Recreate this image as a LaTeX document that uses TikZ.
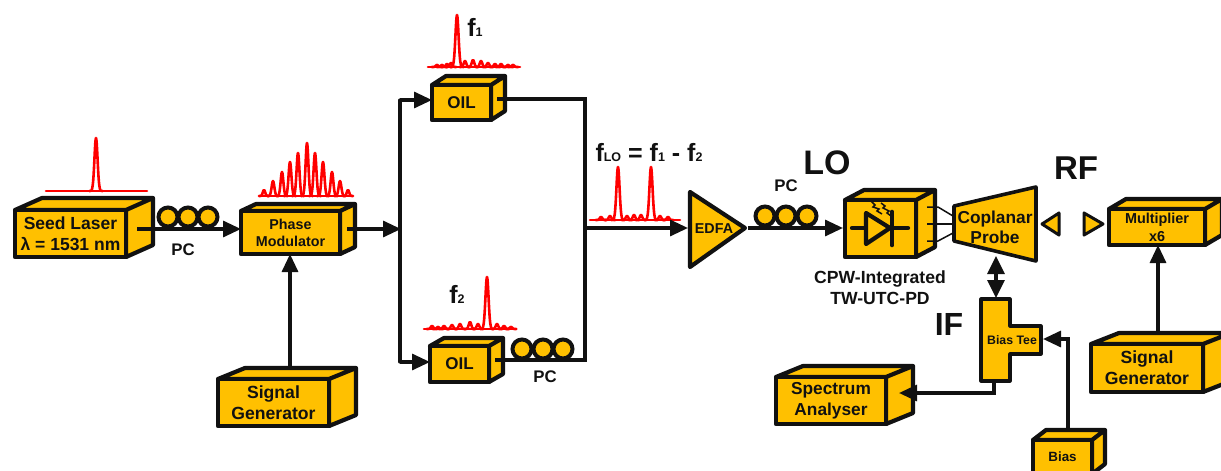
\documentclass[tikz,border=0pt]{standalone}
\usepackage{fontspec}
\setmainfont{Liberation Sans}[BoldFont={Liberation Sans Bold}]
\usetikzlibrary{arrows.meta,calc}
\definecolor{gold}{HTML}{FFC000}
\definecolor{ink}{HTML}{111111}
\newcommand{\fs}[2]{\fontsize{#1}{#2}\selectfont\bfseries}
\newcommand{\fsub}[1]{{\fontsize{25}{25}\selectfont f}{\fontsize{12.5}{12.5}\selectfont #1}}
\newcommand{\devbox}[9]{%
  \draw[dev] (#2,#3) -- ({#2+#6},{#3-#7}) -- ({#4+#6},{#3-#7}) -- ({#4+#6},{#5-#7}) -- (#4,#5) -- (#4,#3) -- cycle
     (#4,#3) -- ({#4+#6},{#3-#7});
  \node[devnode,font=#8,minimum width={(#4-#2)*1pt},minimum height={(#5-#3)*1pt}] (#1) at ({(#2+#4)/2},{(#3+#5)/2}) {#9};
}
\newcommand{\pk}[4]{% x0, height, base, width
  \draw[spec] plot[domain={#1-3*#4}:{#1+3*#4},samples=25,smooth] (\x,{#3-#2*exp(-((\x-#1)/#4)^2)});
}
\newcommand{\bumps}[2]{% base, list x/h
  \foreach \bx/\bh in {#2} {\pk{\bx}{\bh}{#1}{1.8}}
}
\begin{document}
\begin{tikzpicture}[x=1pt,y=-1pt,
  dev/.style={draw=ink,fill=gold,line width=4.2pt,line join=round},
  devnode/.style={dev,inner sep=0pt,outer sep=0pt,align=center,text=ink},
  conn/.style={draw=ink,line width=3.2pt},
  arr/.style={conn,-{Triangle[length=18pt,width=16pt]}},
  darr/.style={conn,{Triangle[length=18pt,width=17pt]}-{Triangle[length=18pt,width=17pt]}},
  coil/.style={circle,draw=ink,fill=gold,line width=4pt,minimum size=19pt,inner sep=0pt,outer sep=0pt},
  spec/.style={draw=red,line width=2.6pt,line cap=round,line join=round},
  lab/.style={inner sep=0pt,text=ink,align=center},
  thin wire/.style={draw=ink,line width=1.5pt}]
\clip (0,0) rectangle (1221,471);
\fill[white] (0,0) rectangle (1221,471);

% spectra
\draw[spec] (46,191) -- (147,191); \pk{96}{53}{191}{2.2}
\draw[spec] (261,196) -- (352,196);
\pk{264}{6}{196}{1.7}\pk{273}{15}{196}{1.9}\pk{282}{24}{196}{1.9}\pk{290}{34}{196}{2}\pk{298}{43}{196}{2}\pk{307}{53}{196}{2}\pk{315}{43}{196}{2}\pk{323}{34}{196}{2}\pk{332}{24}{196}{1.9}\pk{340}{15}{196}{1.9}\pk{348}{6}{196}{1.7}
\draw[spec] (428,67) -- (520,67); \pk{457}{52}{67}{2.2}
\bumps{67}{437/2,442/2,447/3,451/4,465/6,473/7,481/6,488/4,495/3,501/3,508/2,513/2}
\draw[spec] (424,329) -- (516,329); \pk{487}{52}{329}{2.2}
\bumps{329}{432/3,438/2,444/3,452/4,460/5,470/7,478/5,497/5,504/3,511/2}
\draw[spec] (590,220) -- (680,220); \pk{618}{53}{220}{2.2}\pk{651}{53}{220}{2.2}
\bumps{220}{601/3,610/4,627/4,634/5,641/5,660/4,668/3}

% connector junctions
\coordinate (split) at (401,229);
\coordinate (joint) at (585,228);
\coordinate (oiloa) at (400,100);
\coordinate (oilob) at (400,362);
\coordinate (joina) at (585,99);
\coordinate (joinb) at (585,360);

% devices
\devbox{seed}{15}{210}{126}{257}{27}{12}{\fs{17.5}{21}}{Seed Laser\\λ = 1531 nm}
\devbox{pm}{241}{211}{340}{254}{15}{7}{\fs{14.3}{17}}{Phase\\Modulator}
\devbox{sga}{218}{379}{329}{426}{27}{11}{\fs{17.6}{21}}{Signal\\Generator}
\devbox{oila}{432}{85}{491}{120}{14}{9}{\fs{17}{20}}{OIL}
\devbox{oilb}{430}{346}{489}{382}{14}{8}{\fs{17}{20}}{OIL}
\devbox{cpw}{845}{200}{916}{257}{19}{10}{\fs{10}{12}}{}
\devbox{mult}{1109}{209}{1205}{245}{17}{10}{\fs{14.4}{18}}{Multiplier\\x6}
\devbox{sgb}{1091}{344}{1203}{392}{28}{11}{\fs{17.6}{21}}{Signal\\Generator}
\devbox{spec}{776}{377}{886}{424}{27}{11}{\fs{17.3}{21}}{Spectrum\\Analyser}
\devbox{bias}{1033}{440}{1092}{474}{13}{10}{\fs{13.4}{16}}{Bias}

% EDFA
\draw[dev] (690,192) -- (745,228) -- (690,267) -- cycle;
\node[lab,font=\fs{14.3}{17}] (edfa) at (714,229) {EDFA};
\coordinate (edfaw) at (688,228);
\coordinate (edfae) at (748,228);

% Coplanar probe
\draw[dev,line width=3.6pt] (954,206) -- (1036,187) -- (1036,261) -- (954,241) -- cycle;
\node[lab,font=\fs{17.3}{20}] (probe) at (995,227) {Coplanar\\Probe};

% horns
\draw[dev,line width=3pt] (1042,224) -- (1059,213) -- (1059,235) -- cycle;
\draw[dev,line width=3pt] (1084,213) -- (1084,235) -- (1103,224) -- cycle;

% Bias tee
\draw[dev,line width=3.2pt] (981,299) -- (1010,299) -- (1010,326) -- (1041,326) -- (1041,354) -- (1010,354) -- (1010,381) -- (981,381) -- cycle;
\node[lab,font=\fs{12.3}{14}] (tee) at (1012,340) {Bias Tee};
\coordinate (teetop) at (996,298);
\coordinate (teebot) at (994,382);
\coordinate (teeright) at (1043,339);

% diode inside the CPW box
\coordinate (da) at (852,228);
\coordinate (dc) at (908,228);
\draw[ink,line width=4.2pt,line cap=round] (da) -- (866,228) (892,228) -- (dc);
\draw[ink,line width=4.2pt,line join=round,fill=gold] (866,213) -- (866,244) -- (890,228) -- cycle;
\draw[ink,line width=4.6pt,line cap=round] (892,212) -- (892,245);
\draw[ink,line width=1.5pt] (871,201) -- (875,205) -- (873,207) -- (879,209) -- (877,211) -- (882,214);
\draw[ink,line width=1.5pt] (881,203) -- (885,206) -- (883,208) -- (889,211) -- (887,213) -- (891,216);

% pins
\draw[thin wire] (927,207) -- (938,207) -- (953,216);
\draw[thin wire] (927,224) -- (953,224);
\draw[thin wire] (927,241) -- (938,241) -- (953,233);

% arrows
\coordinate (seedo) at (137,229);
\coordinate (pmo) at (347,229);
\coordinate (oilao) at (497,99);
\coordinate (oilbo) at (495,360);
\coordinate (cpwi) at (843,228);
\draw[arr] (seedo) -- (pm.west |- seedo);
\draw[arr] (pmo) -- (split);
\draw[conn,line cap=round] (oiloa) -- (oilob);
\draw[arr] (oiloa) -- (oila.west |- oiloa);
\draw[arr] (oilob) -- (oilb.west |- oilob);
\draw[conn] (oilao) -- (joina) -- (joinb) -- (oilbo);
\draw[arr] (joint) -- (edfaw);
\draw[arr] (edfae) -- (cpwi);
\coordinate (sgatop) at (290,368);
\draw[arr] (sgatop) -- (sgatop |- pm.south);
\coordinate (sgbtop) at (1158,331);
\draw[arr] (sgbtop) -- (sgbtop |- mult.south);
\coordinate (probebot) at (996,256);
\draw[darr] (probebot) -- (teetop);
\coordinate (speco) at (899,393);
\draw[arr] (teebot) |- (speco);
\coordinate (biastop) at (1068,428);
\draw[arr] (biastop) |- (teeright);

% polarisation controllers
\node[coil] (pa1) at (168,217) {};
\node[coil] (pa2) at (188,217) {};
\node[coil] (pa3) at (208,217) {};
\node[coil] (pb1) at (522,349) {};
\node[coil] (pb2) at (543,349) {};
\node[coil] (pb3) at (563,349) {};
\node[coil] (pc1) at (765,216) {};
\node[coil] (pc2) at (786,216) {};
\node[coil] (pc3) at (807,216) {};

% labels
\node[lab,font=\fs{16.8}{20}] (pcla) at (183,250) {PC};
\node[lab,font=\fs{16.8}{20}] (pclb) at (545,377) {PC};
\node[lab,font=\fs{16.8}{20}] (pclc) at (786,186) {PC};
\node[lab,font=\bfseries] (fa) at (475,27) {\fsub{1}};
\node[lab,font=\bfseries] (fb) at (457,294) {\fsub{2}};
\node[lab,font=\bfseries] (flo) at (649,153) {\fsub{LO}{\fontsize{25}{25}\selectfont{} = }\fsub{1}{\fontsize{25}{25}\selectfont{} - }\fsub{2}};
\node[lab,font=\fs{34}{38}] (lo) at (827,163) {LO};
\node[lab,font=\fs{33}{36}] (rf) at (1076,168) {RF};
\node[lab,font=\fs{32}{34}] (if) at (949,324) {IF};
\node[lab,font=\fs{17.6}{21}] (cpwl) at (880,288) {CPW-Integrated\\TW-UTC-PD};
\end{tikzpicture}
\end{document}
